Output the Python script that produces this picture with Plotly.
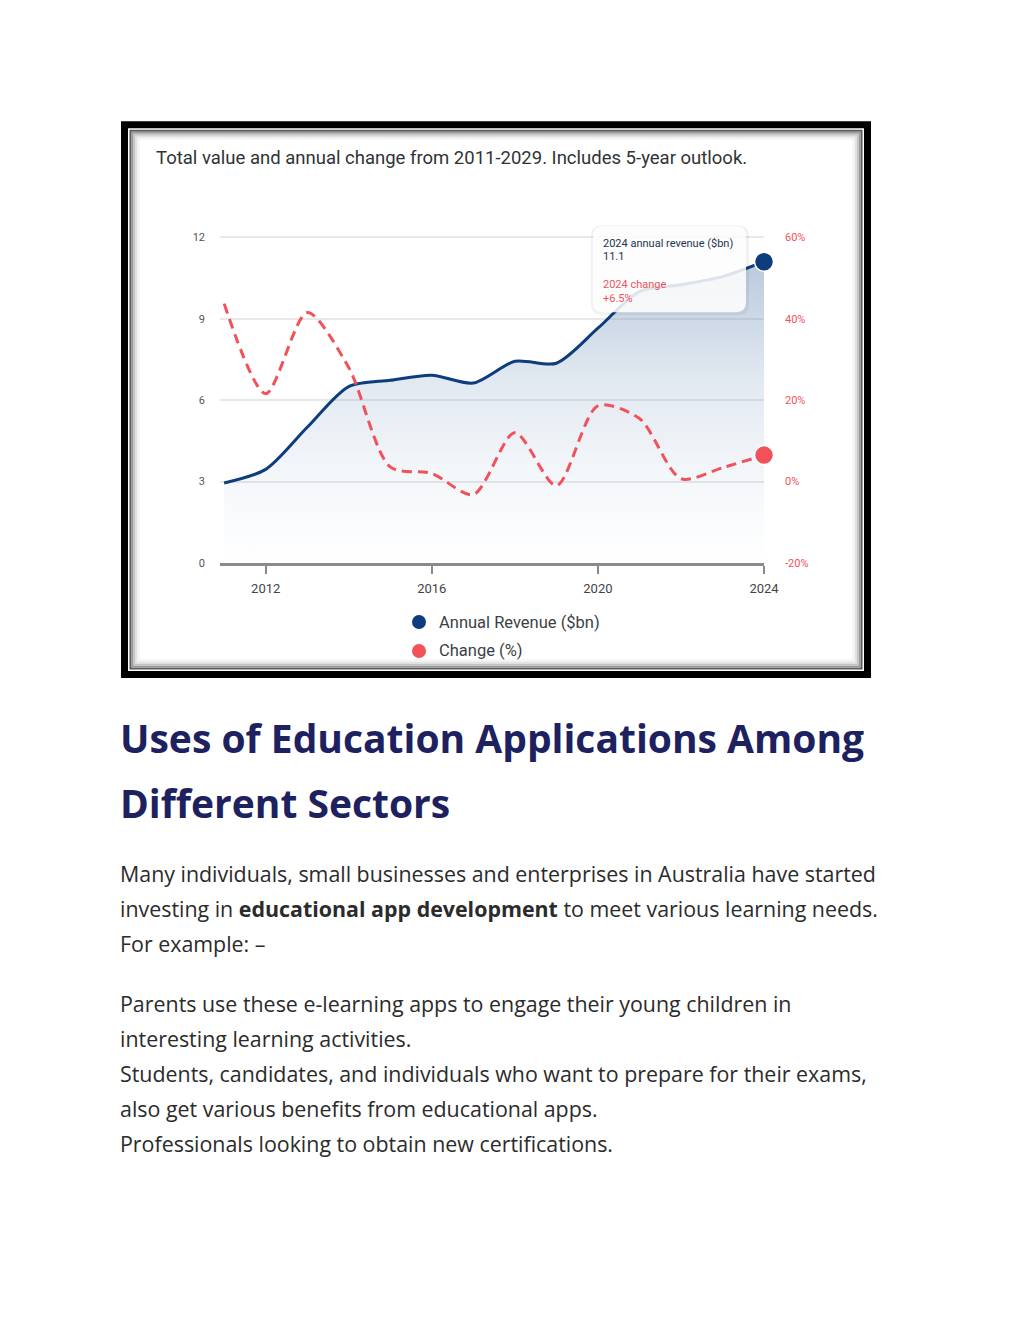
import plotly.graph_objects as go

# ---------------- data ----------------
years = [2011, 2012, 2013, 2014, 2015, 2016, 2017, 2018, 2019, 2020, 2021, 2022, 2023, 2024]
revenue = [2.95, 3.45, 5.0, 6.5, 6.73, 6.92, 6.63, 7.43, 7.36, 8.65, 10.0, 10.25, 10.55, 11.1]
change = [43.7, 21.6, 41.5, 28.0, 3.6, 2.0, -3.2, 12.0, -1.0, 18.6, 15.5, 0.7, 3.4, 6.5]
x_ticks = [2012, 2016, 2020, 2024]
left_ticks = [0, 3, 6, 9, 12]
right_ticks = [-20, 0, 20, 40, 60]
right_tick_text = ["-20%", "0%", "20%", "40%", "60%"]

chart_title = "Total value and annual change from 2011-2029. Includes 5-year outlook."
legend_names = ["Annual Revenue ($bn)", "Change (%)"]
heading_lines = ["Uses of Education Applications Among", "Different Sectors"]
body_lines = [
    "Many individuals, small businesses and enterprises in Australia have started",
    "investing in <b>educational app development</b> to meet various learning needs.",
    "For example: –",
    "Parents use these e-learning apps to engage their young children in",
    "interesting learning activities.",
    "Students, candidates, and individuals who want to prepare for their exams,",
    "also get various benefits from educational apps.",
    "Professionals looking to obtain new certifications.",
]

BLUE = "#0d3d7c"
RED = "#f1525a"

# ---------------- page geometry (reference pixel coords; page has 8px body margin) ----------------
OFF = 8
PW, PH = 1024 - OFF, 1325 - OFF
L, R, B = 220, 764, 563
Y12 = 237                      # pixel row of the value 12 / 60%
YMAX = 12.12                   # small headroom so the top gridline is drawn
H = (B - Y12) * YMAX / 12
T = B - H
W = R - L
Y2MIN, Y2MAX = -20, -20 + 80 * YMAX / 12


def px(x):
    return (x - L) / W


def py(y):
    return (B - y) / H


def rect(x0, y0, x1, y1, **kw):
    return dict(type="rect", xref="paper", yref="paper",
                x0=px(x0), x1=px(x1), y0=py(y0), y1=py(y1), **kw)


def rounded(x0, y0, x1, y1, r):
    pts = [
        f"M {px(x0 + r)},{py(y0)}",
        f"L {px(x1 - r)},{py(y0)}",
        f"Q {px(x1)},{py(y0)} {px(x1)},{py(y0 + r)}",
        f"L {px(x1)},{py(y1 - r)}",
        f"Q {px(x1)},{py(y1)} {px(x1 - r)},{py(y1)}",
        f"L {px(x0 + r)},{py(y1)}",
        f"Q {px(x0)},{py(y1)} {px(x0)},{py(y1 - r)}",
        f"L {px(x0)},{py(y0 + r)}",
        f"Q {px(x0)},{py(y0)} {px(x0 + r)},{py(y0)} Z",
    ]
    return " ".join(pts)


fig = go.Figure()

fig.add_trace(go.Scatter(
    x=years, y=revenue, mode="lines", name=legend_names[0],
    line=dict(color=BLUE, width=3, shape="spline", smoothing=0.8),
    fill="tozeroy",
    fillgradient=dict(type="vertical", colorscale=[
        [0, "rgba(110,145,185,0)"],
        [0.3, "rgba(110,145,185,0.08)"],
        [0.6, "rgba(110,145,185,0.2)"],
        [1, "rgba(100,135,178,0.45)"],
    ]),
    hoverinfo="skip",
))
fig.add_trace(go.Scatter(
    x=years, y=change, mode="lines", name=legend_names[1], yaxis="y2",
    line=dict(color=RED, width=3, dash="10px,6px", shape="spline", smoothing=0.8),
    hoverinfo="skip",
))
fig.add_trace(go.Scatter(
    x=[years[-1]], y=[revenue[-1]], mode="markers", cliponaxis=False,
    marker=dict(color=BLUE, size=19, line=dict(color="white", width=1.5)),
    hoverinfo="skip",
))
fig.add_trace(go.Scatter(
    x=[years[-1]], y=[change[-1]], mode="markers", yaxis="y2", cliponaxis=False,
    marker=dict(color=RED, size=19, line=dict(color="white", width=1.5)),
    hoverinfo="skip",
))

shapes = [
    rect(121, 121, 871, 678, fillcolor="black", line=dict(width=0), layer="below"),
    rect(128, 128, 864, 671, fillcolor="white", line=dict(width=0), layer="below"),
    rect(130.5, 130.5, 861.5, 668.5, fillcolor="rgba(0,0,0,0)", line=dict(color="#5a5a5a", width=2), layer="below"),
    rect(132.5, 132.5, 859.5, 666.5, fillcolor="rgba(0,0,0,0)", line=dict(color="#9a9a9a", width=2), layer="below"),
    rect(134.5, 134.5, 857.5, 664.5, fillcolor="rgba(0,0,0,0)", line=dict(color="#c4c4c4", width=2), layer="below"),
    rect(136.5, 136.5, 855.5, 662.5, fillcolor="rgba(0,0,0,0)", line=dict(color="#e2e2e2", width=2), layer="below"),
    rect(138.5, 138.5, 853.5, 660.5, fillcolor="rgba(0,0,0,0)", line=dict(color="#f3f3f3", width=2), layer="below"),
    # tooltip shadow + box
    dict(type="path", xref="paper", yref="paper", path=rounded(591, 225, 749, 315, 11),
         fillcolor="rgba(0,0,0,0.05)", line=dict(width=0), layer="above"),
    dict(type="path", xref="paper", yref="paper", path=rounded(593, 226, 746, 312, 10),
         fillcolor="rgba(255,255,255,0.86)", line=dict(width=0), layer="above"),
    # legend dots
    dict(type="circle", xref="paper", yref="paper", x0=px(412), x1=px(426), y0=py(615), y1=py(629),
         fillcolor=BLUE, line=dict(width=0)),
    dict(type="circle", xref="paper", yref="paper", x0=px(412), x1=px(426), y0=py(644), y1=py(658),
         fillcolor=RED, line=dict(width=0)),
]

ann = []


def text(x, y, s, size, color, family="Roboto", anchor="left"):
    ann.append(dict(xref="paper", yref="paper", x=px(x), y=py(y), text=s, showarrow=False,
                    xanchor=anchor, yanchor="middle",
                    font=dict(size=size, color=color, family=family)))


text(154, 158, chart_title, 18.5, "#2f3336")
text(601, 243, "2024 annual revenue ($bn)", 11, "#24344f")
text(601, 256, f"{revenue[-1]:.1f}", 11, "#24344f")
text(601, 284, "2024 change", 11, RED)
text(601, 298, f"+{change[-1]:.1f}%", 11, RED)
text(437, 623, legend_names[0], 16.5, "#3b3f44")
text(437, 651, legend_names[1], 16.5, "#3b3f44")

for s, y in zip(heading_lines, [738, 803]):
    text(118, y, "<b>" + s + "</b>", 39, "#1e2160", family="Open Sans")
for s, y in zip(body_lines, [874, 909, 944, 1004, 1039, 1074, 1109, 1144]):
    text(118, y, s, 21.4, "#2b2b2b", family="Open Sans")

fig.update_layout(
    width=PW, height=PH,
    margin=dict(l=L - OFF, r=PW - (R - OFF), t=T - OFF, b=PH - (B - OFF), pad=0),
    paper_bgcolor="white", plot_bgcolor="rgba(0,0,0,0)",
    showlegend=False,
    shapes=shapes, annotations=ann,
    xaxis=dict(range=[2010.9, 2024], tickvals=x_ticks, ticks="outside", ticklen=8,
               tickcolor="#8a8a8a", tickwidth=1.5, showline=True, linecolor="#8a8a8a",
               linewidth=2.5, showgrid=False, zeroline=False,
               tickfont=dict(size=13, color="#444", family="Roboto"), ticklabelstandoff=4),
    yaxis=dict(range=[0, YMAX], tickvals=left_ticks, showgrid=True, gridcolor="#e8e8e8",
               gridwidth=1.5, zeroline=False, showline=False, ticks="",
               tickfont=dict(size=11, color="#555", family="Roboto"), ticklabelstandoff=14),
    yaxis2=dict(range=[Y2MIN, Y2MAX], tickmode="array", tickvals=right_ticks, ticktext=right_tick_text,
                overlaying="y", side="right", showgrid=False, zeroline=False, showline=False, ticks="",
                tickfont=dict(size=11, color=RED, family="Roboto"), ticklabelstandoff=20),
)

fig.write_html("out.html")
